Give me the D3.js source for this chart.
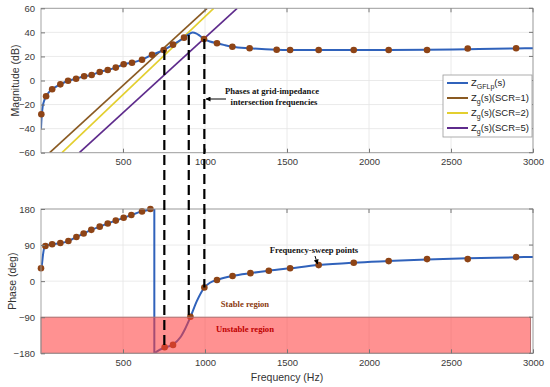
<!DOCTYPE html>
<html><head><meta charset="utf-8">
<script src="https://cdn.jsdelivr.net/npm/d3@7"></script>
<style>body{margin:0;background:#fff;}svg{display:block;font-family:"Liberation Sans",Arial,sans-serif;}</style>
</head><body>
<svg id="c" width="550" height="387"></svg>
<script>
// ---------- data ----------
const xTicks = [500, 1000, 1500, 2000, 2500, 3000];
const magTicks = [-60, -40, -20, 0, 20, 40, 60];
const phaseTicks = [-180, -90, 0, 90, 180];

// Z_GFLp magnitude curve
const magCurveF  = [0, 4, 10, 20, 31, 50, 68, 100, 118, 165, 214, 263, 309, 358, 407, 456, 504, 555, 616, 677, 748, 805, 850, 880, 905, 925, 945, 968, 994, 1030, 1073, 1120, 1167, 1272, 1437, 1519, 1693, 1907, 2120, 2354, 2602, 2897, 3000];
const magCurveDb = [-40, -30, -22, -16.5, -13, -9.5, -7.3, -4.5, -3.2, -0.2, 1.5, 3.5, 4.6, 7.1, 8.7, 10.7, 13.5, 14.8, 17.3, 21.4, 25.3, 29.8, 33.5, 36.5, 38.8, 39.8, 39.2, 37.2, 34.5, 32.4, 30.9, 29.4, 28.1, 26.8, 25.6, 25.4, 25.3, 25.3, 25.4, 25.6, 26.0, 26.6, 26.8];
// frequency-sweep points (magnitude)
const magDotF  = [2, 31, 68, 118, 165, 214, 263, 309, 358, 407, 456, 504, 555, 616, 677, 748, 805, 872, 994, 1073, 1167, 1272, 1437, 1519, 1693, 1907, 2120, 2354, 2602, 2897];
const magDotDb = [-28, -13.1, -7.3, -3.2, -0.2, 1.5, 3.5, 4.6, 7.1, 8.7, 10.7, 13.5, 14.8, 17.3, 21.4, 25.3, 29.8, 35.6, 34.5, 30.9, 28.1, 26.8, 25.6, 25.3, 25.3, 25.3, 25.3, 25.3, 26.6, 26.8];

// grid impedance lines Z_g (SCR = 1, 2, 5): [freq, dB] endpoints
const scrNames = ["SCR=1", "SCR=2", "SCR=5"];
const zg1F = [53, 1013],  zg1Db = [-60, 60];
const zg2F = [128, 1053], zg2Db = [-60, 60];
const zg5F = [234, 1196], zg5Db = [-60, 60];

// Z_GFLp phase curve (two branches, wrap at ~691 Hz)
const phA_F   = [0, 5, 12, 20, 27, 68, 118, 167, 216, 260, 307, 358, 407, 456, 504, 551, 616, 667, 691];
const phA_Deg = [30, 40, 65, 84, 88, 92, 95, 100, 110, 119, 128, 136, 144, 151, 158, 165, 174, 179, 180];
const phB_F   = [691, 720, 754, 805, 850, 880, 911, 950, 996, 1030, 1073, 1168, 1277, 1389, 1519, 1693, 1907, 2120, 2354, 2602, 2897, 3000];
const phB_Deg = [-180, -172, -166, -158, -140, -118, -90, -50, -16, -4, 3, 13, 20, 26, 32, 40, 46, 50, 54, 57, 59.5, 60.5];
// frequency-sweep points (phase)
const phDotF   = [0, 27, 68, 118, 167, 216, 260, 307, 358, 407, 456, 504, 551, 616, 667, 754, 805, 911, 996, 1073, 1168, 1277, 1389, 1519, 1693, 1907, 2120, 2354, 2602, 2897];
const phDotDeg = [32, 87.7, 92, 95, 100, 110, 119, 128, 136, 144, 151, 158, 165, 174, 180, -165, -159, -88.7, -16, 3, 13, 20, 26, 32, 40, 46, 50, 55, 55, 60];

// intersection frequencies (dashed lines)
const crossF     = [752, 901, 996];
const crossTopDb = [25.3, 37.8, 34.5];
const crossBotDeg = [-160, -88.7, -16];

// unstable band
const unstableDeg = [-180, -90];

// ---------- drawing ----------
const svg = d3.select("#c");
const L = 41, R = 533;
const topY = [8.3, 152.7], botY = [209, 353.3];
const x = d3.scaleLinear().domain([0, 3000]).range([L, R]);
const yM = d3.scaleLinear().domain([-60, 60]).range([topY[1], topY[0]]);
const yP = d3.scaleLinear().domain([-180, 180]).range([botY[1], botY[0]]);

const colBlue = "#3062bb", colBrown = "#8a5a22", colYellow = "#e3cf2f", colPurple = "#5e2b8c";
const dotCol = "#8e4416";
const tickCol = "#3a3a3a";

svg.append("defs").html(`
 <clipPath id="clipTop"><rect x="${L}" y="${topY[0]}" width="${R-L}" height="${topY[1]-topY[0]}"/></clipPath>
 <clipPath id="clipBot"><rect x="${L}" y="${botY[0]}" width="${R-L}" height="${botY[1]-botY[0]}"/></clipPath>
 <marker id="arr" viewBox="0 0 10 10" refX="9" refY="5" markerWidth="5" markerHeight="5" orient="auto-start-reverse"><path d="M0,0L10,5L0,10z" fill="#000"/></marker>
`);

function panel(y, yTicks, yRange) {
  const g = svg.append("g");
  g.append("rect").attr("x", L).attr("y", yRange[0]).attr("width", R-L).attr("height", yRange[1]-yRange[0]).attr("fill", "#fff");
  g.selectAll(".gx").data(xTicks).join("line").attr("x1", d=>x(d)).attr("x2", d=>x(d))
    .attr("y1", yRange[0]).attr("y2", yRange[1]).attr("stroke", "#e4e4e4").attr("stroke-width", 0.8);
  g.selectAll(".gy").data(yTicks).join("line").attr("x1", L).attr("x2", R)
    .attr("y1", d=>y(d)).attr("y2", d=>y(d)).attr("stroke", "#e4e4e4").attr("stroke-width", 0.8);
  return g;
}
function frame(y, yTicks, yRange) {
  const g = svg.append("g");
  g.append("rect").attr("x", L).attr("y", yRange[0]).attr("width", R-L).attr("height", yRange[1]-yRange[0])
    .attr("fill", "none").attr("stroke", "#9a9a9a").attr("stroke-width", 0.9);
  const axB = d3.axisBottom(x).tickValues(xTicks).tickSizeInner(-4).tickSizeOuter(0).tickPadding(6).tickFormat(d3.format("d"));
  const gx = g.append("g").attr("transform", `translate(0,${yRange[1]})`).call(axB);
  gx.select(".domain").remove();
  gx.selectAll("line").attr("stroke", "#777");
  gx.selectAll("text").attr("font-size", 9.5).attr("fill", tickCol).attr("font-family", "Liberation Sans, Arial");
  const axL = d3.axisLeft(y).tickValues(yTicks).tickSizeInner(-4).tickSizeOuter(0).tickPadding(6)
    .tickFormat(d => d < 0 ? "\u2212" + Math.abs(d) : String(d));
  const gy = g.append("g").attr("transform", `translate(${L},0)`).call(axL);
  gy.select(".domain").remove();
  gy.selectAll("line").attr("stroke", "#777");
  gy.selectAll("text").attr("font-size", 9.5).attr("fill", tickCol).attr("font-family", "Liberation Sans, Arial");
  g.selectAll(".rt").data(yTicks).join("line").attr("x1", R).attr("x2", R-4)
    .attr("y1", d=>y(d)).attr("y2", d=>y(d)).attr("stroke", "#777");
  g.selectAll(".tt").data(xTicks).join("line").attr("x1", d=>x(d)).attr("x2", d=>x(d))
    .attr("y1", yRange[0]).attr("y2", yRange[0]+4).attr("stroke", "#777");
  return g;
}

// ----- top panel -----
panel(yM, magTicks, topY);
const topG = svg.append("g").attr("clip-path", "url(#clipTop)");
const zgSets = [[zg1F, zg1Db, colBrown], [zg2F, zg2Db, colYellow], [zg5F, zg5Db, colPurple]];
zgSets.forEach(([F, D, c]) => {
  topG.append("path").datum(d3.zip(F, D)).attr("fill", "none").attr("stroke", c).attr("stroke-width", 1.6)
    .attr("d", d3.line().x(d=>x(d[0])).y(d=>yM(d[1])));
});
topG.append("path").datum(d3.zip(magCurveF, magCurveDb)).attr("fill", "none").attr("stroke", colBlue).attr("stroke-width", 2)
  .attr("d", d3.line().curve(d3.curveMonotoneX).x(d=>x(d[0])).y(d=>yM(d[1])));
frame(yM, magTicks, topY);
svg.append("g").selectAll(".md").data(d3.zip(magDotF, magDotDb)).join("circle")
  .attr("cx", d=>x(d[0])).attr("cy", d=>yM(d[1])).attr("r", 3.3).attr("fill", dotCol);

// ----- bottom panel -----
panel(yP, phaseTicks, botY);
const botG = svg.append("g").attr("clip-path", "url(#clipBot)");
const phLine = d3.line().curve(d3.curveMonotoneX).x(d=>x(d[0])).y(d=>yP(d[1]));
const brA = d3.zip(phA_F, phA_Deg), brB = d3.zip(phB_F, phB_Deg);
botG.append("path").datum(brA).attr("fill", "none").attr("stroke", colBlue).attr("stroke-width", 2).attr("d", phLine);
botG.append("line").attr("x1", x(brA[brA.length-1][0])).attr("x2", x(brB[0][0]))
  .attr("y1", yP(brA[brA.length-1][1])).attr("y2", yP(brB[0][1])).attr("stroke", colBlue).attr("stroke-width", 2);
botG.append("path").datum(brB).attr("fill", "none").attr("stroke", colBlue).attr("stroke-width", 2).attr("d", phLine);
svg.append("g").selectAll(".pd").data(d3.zip(phDotF, phDotDeg)).join("circle")
  .attr("cx", d=>x(d[0])).attr("cy", d=>yP(d[1])).attr("r", 3.3).attr("fill", dotCol);

// unstable region (translucent overlay)
svg.append("rect").attr("x", x(0)).attr("y", yP(unstableDeg[1]))
  .attr("width", x(2985) - x(0)).attr("height", yP(unstableDeg[0]) - yP(unstableDeg[1]))
  .attr("fill", "#ff3b3b").attr("fill-opacity", 0.56).attr("stroke", "#b07070").attr("stroke-width", 1);
frame(yP, phaseTicks, botY);

// ----- dashed intersection lines -----
crossF.forEach((f, i) => {
  svg.append("line").attr("x1", x(f)).attr("x2", x(f)).attr("y1", yM(crossTopDb[i])).attr("y2", yP(crossBotDeg[i]))
    .attr("stroke", "#000").attr("stroke-width", 2.2).attr("stroke-dasharray", "10,5");
});

// ----- annotations -----
const serif = "Liberation Serif, Times New Roman, serif";
svg.append("text").attr("x", 272).attr("y", 94).attr("text-anchor", "middle").attr("font-family", serif)
  .attr("font-weight", "bold").attr("font-size", 8.6).attr("fill", "#111").text("Phases at grid-impedance");
svg.append("text").attr("x", 274).attr("y", 105).attr("text-anchor", "middle").attr("font-family", serif)
  .attr("font-weight", "bold").attr("font-size", 8.6).attr("fill", "#111").text("intersection frequencies");
svg.append("line").attr("x1", 226).attr("y1", 99).attr("x2", 206).attr("y2", 99)
  .attr("stroke", "#000").attr("stroke-width", 1).attr("marker-end", "url(#arr)");

svg.append("text").attr("x", 314).attr("y", 253).attr("text-anchor", "middle").attr("font-family", serif)
  .attr("font-weight", "bold").attr("font-size", 8.6).attr("fill", "#111").text("Frequency-sweep points");
svg.append("line").attr("x1", 315).attr("y1", 256).attr("x2", 317.5).attr("y2", 264)
  .attr("stroke", "#000").attr("stroke-width", 1).attr("marker-end", "url(#arr)");

svg.append("text").attr("x", 245).attr("y", 307).attr("text-anchor", "middle").attr("font-family", serif)
  .attr("font-weight", "bold").attr("font-size", 8.6).attr("fill", "#8b3a10").text("Stable region");
svg.append("text").attr("x", 245).attr("y", 332).attr("text-anchor", "middle").attr("font-family", serif)
  .attr("font-weight", "bold").attr("font-size", 8.6).attr("fill", "#c00000").text("Unstable region");

// ----- axis labels -----
svg.append("text").attr("transform", `translate(19,${(topY[0]+topY[1])/2}) rotate(-90)`).attr("text-anchor", "middle")
  .attr("font-size", 10.5).attr("fill", "#333").text("Magnitude (dB)");
svg.append("text").attr("transform", `translate(16,${(botY[0]+botY[1])/2}) rotate(-90)`).attr("text-anchor", "middle")
  .attr("font-size", 10.5).attr("fill", "#333").text("Phase (deg)");
svg.append("text").attr("x", (L+R)/2).attr("y", 381).attr("text-anchor", "middle")
  .attr("font-size", 10.5).attr("fill", "#333").text("Frequency (Hz)");

// ----- legend -----
const lg = svg.append("g");
lg.append("rect").attr("x", 443).attr("y", 75).attr("width", 89).attr("height", 62)
  .attr("fill", "#fff").attr("stroke", "#9a9a9a").attr("stroke-width", 0.8);
const legendItems = [["GFLp", "", colBlue], ["g", "(SCR=1)", colBrown], ["g", "(SCR=2)", colYellow], ["g", "(SCR=5)", colPurple]];
legendItems.forEach((it, i) => {
  const yy = 83 + i * 15;
  lg.append("line").attr("x1", 447).attr("x2", 468).attr("y1", yy).attr("y2", yy).attr("stroke", it[2]).attr("stroke-width", 2);
  const t = lg.append("text").attr("x", 471).attr("y", yy + 3).attr("font-size", 9.5).attr("fill", "#222");
  t.append("tspan").text("Z");
  t.append("tspan").attr("font-size", 7).attr("dy", 2.5).text(it[0]);
  t.append("tspan").attr("dy", -2.5).text("(s)" + it[1]);
});
</script>
</body></html>
